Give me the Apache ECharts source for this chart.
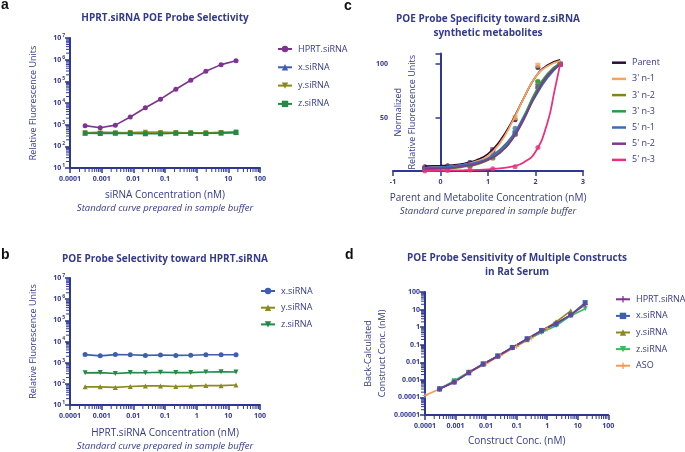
<!DOCTYPE html>
<html lang="en">
<head>
<meta charset="UTF-8">
<title>POE Probe</title>
<script src="https://cdn.jsdelivr.net/npm/echarts@6/dist/echarts.min.js"></script>
<style>
  html, body { margin: 0; padding: 0; background: #fff; }
</style>
</head>
<body>
<div id="main" style="width:685px;height:452px;"></div>
<script>
// ---- data ----
// siRNA concentration series (nM), shared by panels a, b, d
var conc = [0.0003, 0.0009, 0.0027, 0.008, 0.024, 0.072, 0.22, 0.65, 1.95, 5.9, 17.5];

// panel a: RFU
var aHPRT = [900, 720, 950, 2250, 6000, 15000, 43000, 112000, 290000, 590000, 900000];
var aX = [420, 440, 430, 420, 430, 430, 420, 420, 410, 420, 440];
var aY = [420, 410, 410, 430, 450, 440, 430, 420, 420, 440, 460];
var aZ = [400, 390, 400, 390, 380, 380, 400, 400, 390, 410, 430];

// panel b: RFU
var bX = [2400, 2100, 2400, 2350, 2200, 2300, 2200, 2250, 2350, 2350, 2350];
var bY = [72, 72, 68, 75, 80, 80, 75, 78, 83, 82, 88];
var bZ = [330, 340, 310, 340, 335, 350, 340, 340, 360, 370, 360];

// panel c: log conc and normalized RFU
var cPts = [-0.33, 0.15, 0.62, 1.1, 1.57, 2.05, 2.52];
var cCurveX = [-0.33, 0, 0.25, 0.5, 0.75, 1.0, 1.25, 1.5, 1.75, 2.0, 2.25, 2.52];
var cNames = ['Parent', "3' n-1", "3' n-2", "3' n-3", "5' n-1", "5' n-2"];
var cCurves = [
  [4.5, 5, 5.5, 7, 10, 16, 28, 46, 68, 88, 99, 104],
  [3, 3.5, 4.5, 6, 9, 14, 26, 45, 68, 88, 98, 103],
  [1.5, 2, 2.5, 4, 6, 10, 17, 29, 48, 72, 90, 101],
  [2, 2.5, 3, 4.5, 7, 11, 18, 31, 51, 74, 91, 101],
  [3, 3.5, 4.5, 6, 8, 12, 20, 32, 50, 70, 87, 100],
  [2, 2.5, 3, 4.5, 6.5, 10.5, 17, 29, 48, 71, 89, 100]
];
var cPink = { x: [-0.33, 0, 0.25, 0.5, 0.75, 1.0, 1.25, 1.5, 1.75, 2.0, 2.25, 2.4, 2.52],
              y: [0, 0.3, 0.5, 0.7, 1, 1.5, 2.5, 4, 8, 18, 45, 75, 100] };
var cDots = [
  [4, 5, 8, 19, 48, 97, 100],
  [3, 4, 7, 17, 50, 99, 100],
  [2, 2, 5, 12, 34, 84, 100],
  [2, 3, 5, 13, 36, 83, 100],
  [3, 4, 8, 17, 40, 78, 100],
  [2, 3, 6, 20, 35, 79, 100],
  [0, 0.5, 1, 2, 4, 22, 100]
];

// panel d: back-calculated conc (nM)
var dHPRT = [0.0003, 0.00072, 0.0026, 0.0078, 0.022, 0.068, 0.21, 0.62, 1.7, 5, 19];
var dX = [0.00031, 0.00075, 0.0025, 0.008, 0.023, 0.07, 0.22, 0.65, 1.5, 5, 25];
var dY = [0.0003, 0.0008, 0.0027, 0.0079, 0.022, 0.07, 0.19, 0.6, 2, 8.5];
var dZ = [0.0003, 0.0009, 0.0027, 0.008, 0.022, 0.07, 0.2, 0.5, 1.2, 4.5, 11];
var asoConc = [0.0001, 0.0003, 0.001, 0.003, 0.01, 0.03, 0.1, 0.3, 1];
var dASO = [0.00013, 0.0003, 0.0009, 0.0028, 0.0085, 0.025, 0.08, 0.24, 0.8];

// log-axis minor tick multipliers (2..9 per decade)
var minorSteps = [2, 3, 4, 5, 6, 7, 8, 9];

// ---- styles ----
var ink = '#343a8c';
var axisCol = '#2f3890';
var font = 'Open Sans';
var col = {
  hprt: '#7e3393', x: '#3d5fae', y: '#8a8a1e', z: '#238a45', zd: '#2fc25b', aso: '#f59a55',
  parent: '#2a0c3c', n31: '#f7a45a', n32: '#7b8a12', n33: '#2d9a45', n51: '#3d6bb5', n52: '#7d3a8f', n53: '#e8327d'
};
var cCols = [col.parent, col.n31, col.n32, col.n33, col.n51, col.n52];
var plus = 'path://M4,0L6,0L6,4L10,4L10,6L6,6L6,10L4,10L4,6L0,6L0,4L4,4Z';
var downTri = 'path://M0,0L10,0L5,9Z';

function pairs(xs, ys) { return ys.map(function (v, i) { return [xs[i], v]; }); }
function decLabel(v) {
  if (v >= 1) return String(Math.round(v));
  var e = Math.round(-Math.log10(v));
  return v.toFixed(e);
}
function powLabel(v) {
  return '{b|10}{s|' + Math.round(Math.log10(v)) + '}';
}
var powRich = {
  b: { fontSize: 7, fontWeight: 'bold', color: ink, fontFamily: font },
  s: { fontSize: 5, fontWeight: 'bold', color: ink, fontFamily: font, verticalAlign: 'top', padding: [0, 0, 5, 1] }
};
var nameRich = {
  t: { fontSize: 10, color: ink, fontFamily: font, lineHeight: 13 },
  i: { fontSize: 9.5, color: ink, fontFamily: font, fontStyle: 'italic', lineHeight: 13 }
};

function logX(gridIndex, nameText, gap) {
  return {
    type: 'log', logBase: 10, gridIndex: gridIndex, min: 0.0001, max: 100, splitNumber: 6,
    name: nameText, nameLocation: 'middle', nameGap: gap,
    nameTextStyle: { rich: nameRich },
    axisLine: { lineStyle: { color: axisCol, width: 2 } },
    axisTick: { length: 5, lineStyle: { color: axisCol, width: 1.5 } },
    axisLabel: { color: ink, fontSize: 7, fontWeight: 'bold', fontFamily: font, margin: 7, formatter: decLabel },
    splitLine: { show: false }
  };
}
function logY(gridIndex, min, max, labelFn, nameText, gap, rich) {
  return {
    type: 'log', logBase: 10, gridIndex: gridIndex, min: min, max: max,
    splitNumber: Math.round(Math.log10(max / min)),
    name: nameText, nameLocation: 'middle', nameGap: gap,
    nameTextStyle: { color: ink, fontSize: 9, fontFamily: font, lineHeight: 14 },
    axisLine: { lineStyle: { color: axisCol, width: 2 } },
    axisTick: { length: 5, lineStyle: { color: axisCol, width: 1.5 } },
    axisLabel: { color: ink, fontSize: 7, fontWeight: 'bold', fontFamily: font, margin: 5, formatter: labelFn, rich: rich },
    splitLine: { show: false }
  };
}
function lineSeries(name, x, y, data, color, symbol) {
  return {
    name: name, type: 'line', xAxisIndex: x, yAxisIndex: y, data: data,
    symbol: symbol, symbolSize: 5, showSymbol: true,
    itemStyle: { color: color }, lineStyle: { color: color, width: 1.6 }
  };
}
function legendBox(left, top, gap, names, icon) {
  var box = {
    orient: 'vertical', left: left, top: top, padding: 0, itemWidth: 14, itemHeight: icon ? 2.5 : 8, itemGap: gap,
    data: names, selectedMode: false,
    formatter: function (n) { return n.split('#')[0]; },
    textStyle: { color: ink, fontSize: 9, fontFamily: font, lineHeight: 10, padding: [0, 0, 0, 1] }
  };
  if (icon) box.icon = icon;
  return box;
}

// minor ticks for log axes, placed through the axis scale
function minorValues(lo, hi) {
  var out = [];
  for (var e = Math.round(Math.log10(lo)); e < Math.round(Math.log10(hi)); e++) {
    minorSteps.forEach(function (m) { out.push(m * Math.pow(10, e)); });
  }
  return out;
}
function minorTickSeries(gi, dir, lo, hi, xMin, yMin) {
  return {
    type: 'custom', coordinateSystem: 'cartesian2d', xAxisIndex: gi, yAxisIndex: gi,
    silent: true, clip: false, z: 5,
    data: minorValues(lo, hi).map(function (v) { return dir === 'x' ? [v, yMin] : [xMin, v]; }),
    renderItem: function (params, api) {
      var p = api.coord([api.value(0), api.value(1)]);
      var shape = dir === 'x'
        ? { x1: p[0], y1: p[1] + 1, x2: p[0], y2: p[1] + 4 }
        : { x1: p[0] - 1, y1: p[1], x2: p[0] - 4, y2: p[1] };
      return { type: 'line', shape: shape, style: { stroke: axisCol, lineWidth: 1 } };
    }
  };
}

var titleStyle = { color: ink, fontSize: 10, fontWeight: 'bold', fontFamily: font, lineHeight: 14 };
var letterStyle = { color: '#111', fontSize: 14, fontWeight: 'bold', fontFamily: 'Liberation Sans', lineHeight: 16 };

var series = [
  // panel a
  lineSeries('HPRT.siRNA#a', 0, 0, pairs(conc, aHPRT), col.hprt, 'circle'),
  lineSeries('x.siRNA#a', 0, 0, pairs(conc, aX), col.x, 'triangle'),
  lineSeries('y.siRNA#a', 0, 0, pairs(conc, aY), col.y, downTri),
  lineSeries('z.siRNA#a', 0, 0, pairs(conc, aZ), col.z, 'rect'),
  // panel b
  lineSeries('x.siRNA#b', 1, 1, pairs(conc, bX), col.x, 'circle'),
  lineSeries('y.siRNA#b', 1, 1, pairs(conc, bY), col.y, 'triangle'),
  lineSeries('z.siRNA#b', 1, 1, pairs(conc, bZ), col.z, downTri),
  // panel d
  lineSeries('ASO#d', 3, 3, pairs(asoConc, dASO), col.aso, plus),
  lineSeries('y.siRNA#d', 3, 3, pairs(conc, dY), col.y, 'triangle'),
  lineSeries('z.siRNA#d', 3, 3, pairs(conc, dZ), col.zd, downTri),
  lineSeries('x.siRNA#d', 3, 3, pairs(conc, dX), col.x, 'rect'),
  lineSeries('HPRT.siRNA#d', 3, 3, pairs(conc, dHPRT), col.hprt, plus),
  // minor ticks
  minorTickSeries(0, 'x', 0.0001, 100, 0.0001, 10),
  minorTickSeries(0, 'y', 10, 1e7, 0.0001, 10),
  minorTickSeries(1, 'x', 0.0001, 100, 0.0001, 10),
  minorTickSeries(1, 'y', 10, 1e7, 0.0001, 10),
  minorTickSeries(3, 'x', 0.0001, 100, 0.0001, 0.00001),
  minorTickSeries(3, 'y', 0.00001, 100, 0.0001, 0.00001)
];

// panel c curves and dots
cNames.forEach(function (n, k) {
  series.push({
    name: n, type: 'line', xAxisIndex: 2, yAxisIndex: 2, smooth: 0.5, symbol: 'none',
    data: pairs(cCurveX, cCurves[k]), lineStyle: { color: cCols[k], width: 1.8 }, itemStyle: { color: cCols[k] }
  });
});
series.push({
  name: "5' n-3", type: 'line', xAxisIndex: 2, yAxisIndex: 2, smooth: 0.5, symbol: 'none',
  data: pairs(cPink.x, cPink.y), lineStyle: { color: col.n53, width: 1.8 }, itemStyle: { color: col.n53 }
});
cCols.concat([col.n53]).forEach(function (c, k) {
  series.push({
    name: 'dots' + k, type: 'scatter', xAxisIndex: 2, yAxisIndex: 2, symbol: k % 2 ? 'rect' : 'circle',
    symbolSize: 5, data: pairs(cPts, cDots[k]), itemStyle: { color: c }
  });
});

var myChart = echarts.init(document.getElementById('main'), null, { renderer: 'canvas' });

var option = {
  backgroundColor: '#fff',
  animation: false,
  title: [
    { text: 'a', left: 1, top: -3, padding: 0, textStyle: letterStyle },
    { text: 'b', left: 1, top: 247, padding: 0, textStyle: letterStyle },
    { text: 'c', left: 344, top: -2, padding: 0, textStyle: letterStyle },
    { text: 'd', left: 345, top: 247, padding: 0, textStyle: letterStyle },
    { text: 'HPRT.siRNA POE Probe Selectivity', left: 165, top: 10.7, padding: 0, textAlign: 'center', textStyle: titleStyle },
    { text: 'POE Probe Selectivity toward HPRT.siRNA', left: 165, top: 251.7, padding: 0, textAlign: 'center', textStyle: titleStyle },
    { text: 'POE Probe Specificity toward z.siRNA\nsynthetic metabolites', left: 488, top: 12, padding: 0, textAlign: 'center', textStyle: titleStyle },
    { text: 'POE Probe Sensitivity of Multiple Constructs\nin Rat Serum', left: 517, top: 251.3, padding: 0, textAlign: 'center', textStyle: titleStyle }
  ],
  grid: [
    { left: 70, top: 38, width: 190, height: 130 },
    { left: 70, top: 278, width: 190, height: 130.5 },
    { left: 393, top: 53.5, width: 190, height: 117.5 },
    { left: 425, top: 292, width: 183.3, height: 123 }
  ],
  xAxis: [
    logX(0, '{t|siRNA Concentration (nM)}\n{i|Standard curve prepared in sample buffer}', 21),
    logX(1, '{t|HPRT.siRNA Concentration (nM)}\n{i|Standard curve prepared in sample buffer}', 21.5),
    {
      type: 'value', gridIndex: 2, min: -1, max: 3, interval: 1,
      name: '{t|Parent and Metabolite Concentration (nM)}\n{i|Standard curve prepared in sample buffer}',
      nameLocation: 'middle', nameGap: 21,
      nameTextStyle: { rich: nameRich },
      axisLine: { onZero: false, lineStyle: { color: axisCol, width: 2 } },
      axisTick: { length: 5, lineStyle: { color: axisCol, width: 1.5 } },
      axisLabel: { color: ink, fontSize: 7, fontWeight: 'bold', fontFamily: font, margin: 7 },
      splitLine: { show: false }
    },
    logX(3, '{t|Construct Conc. (nM)}', 19.5)
  ],
  yAxis: [
    logY(0, 10, 1e7, powLabel, 'Relative Fluorescence Units', 30, powRich),
    logY(1, 10, 1e7, powLabel, 'Relative Fluorescence Units', 30, powRich),
    {
      type: 'value', gridIndex: 2, min: 0, max: 110, interval: 50,
      name: 'Normalized\nRelative Fluorescence Units', nameLocation: 'middle', nameGap: -26,
      nameMoveOverlap: false,
      nameTextStyle: { color: ink, fontSize: 9, fontFamily: font, lineHeight: 14 },
      axisLine: { onZero: true, lineStyle: { color: axisCol, width: 2 } },
      axisTick: { length: 5, lineStyle: { color: axisCol, width: 1.5 } },
      axisLabel: { color: ink, fontSize: 7, fontWeight: 'bold', fontFamily: font, margin: 5,
        formatter: function (v) { return (v === 50 || v === 100) ? v : ''; } },
      splitLine: { show: false }
    },
    logY(3, 0.00001, 100, decLabel, 'Back-Calculated\nConstruct Conc. (nM)', 36, null)
  ],
  legend: [
    legendBox(277, 44, 8.3, ['HPRT.siRNA#a', 'x.siRNA#a', 'y.siRNA#a', 'z.siRNA#a']),
    legendBox(260, 286, 6.7, ['x.siRNA#b', 'y.siRNA#b', 'z.siRNA#b']),
    legendBox(612, 57.7, 6.2, cNames.concat(["5' n-3"]), 'rect'),
    legendBox(615, 294.3, 6.6, ['HPRT.siRNA#d', 'x.siRNA#d', 'y.siRNA#d', 'z.siRNA#d', 'ASO#d'])
  ],
  series: series
};

myChart.setOption(option);
</script>
</body>
</html>
